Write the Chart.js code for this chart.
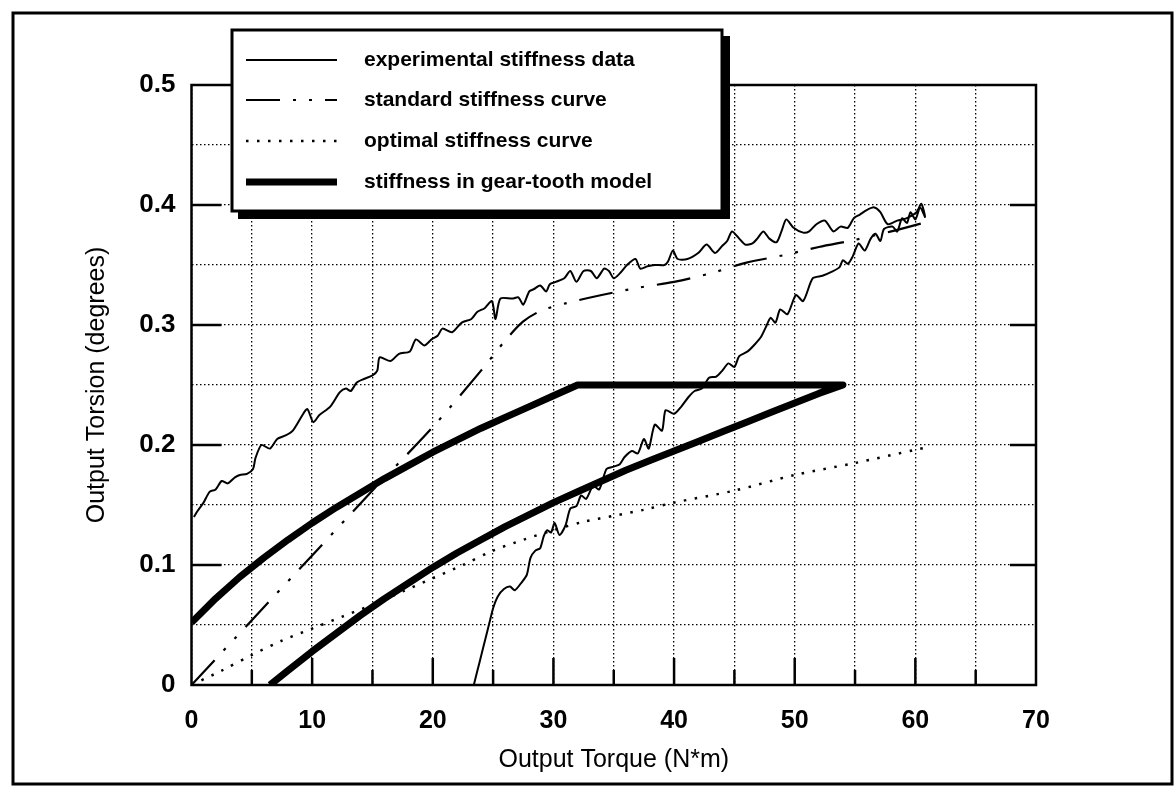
<!DOCTYPE html>
<html>
<head>
<meta charset="utf-8">
<script src="https://cdn.jsdelivr.net/npm/chart.js@4.4.1/dist/chart.umd.min.js"></script>
<style>
  html, body { margin: 0; padding: 0; background: #fff; }
</style>
</head>
<body>
<canvas id="chart" width="1175" height="800"></canvas>
<script>
// ---- data ----
const xLabelsEvery = 10;
const yLabelsEvery = 0.1;

// experimental stiffness data: loading branch, then unloading branch back to 0
const expTorque = [
  23.4, 23.7, 24.0, 24.4, 24.7, 25.0, 25.4, 25.9, 26.4, 26.8, 27.4, 27.8, 28.1, 28.5, 28.9,
  29.2, 29.5, 29.8, 30.1, 30.5, 31.0, 31.4, 31.9, 32.3, 32.7, 33.3, 33.8, 34.4, 35.0, 35.5,
  35.9, 36.5, 37.0, 37.5, 37.9, 38.4, 39.0, 39.3, 40.0, 40.6, 41.2, 41.7, 42.3, 42.9, 43.5,
  44.0, 44.5, 45.0, 45.4, 46.1, 46.7, 47.2, 47.6, 48.0, 48.4, 48.8, 49.4, 50.1, 50.7, 51.5,
  52.3, 53.0, 53.7, 54.0, 54.4, 54.8, 55.3, 55.8, 56.3, 56.7, 57.1, 57.4, 58.1, 58.5, 58.9,
  59.3, 59.6, 60.0, 60.4, 60.8, 60.5,
  60.1, 59.3, 58.5, 57.7, 57.1, 56.6, 56.0, 55.4, 54.9, 54.4, 53.8, 53.2, 52.5, 51.8, 51.2,
  50.7, 49.9, 49.3, 48.9, 48.5, 47.9, 47.4, 46.9, 46.5, 45.9, 45.4, 44.8, 44.4, 44.0, 43.4,
  42.7, 42.0, 41.1, 40.3, 39.9, 39.5, 39.2, 38.4, 37.8, 37.2, 36.8, 36.1, 35.5, 35.0, 34.6,
  34.2, 33.6, 33.1, 32.5, 31.9, 31.4, 30.9, 30.2, 29.7, 29.4, 28.9, 28.4, 28.0, 27.5, 27.1,
  26.6, 25.6, 25.2, 24.9, 24.3, 23.7, 23.2, 22.4, 21.6, 20.8, 20.4, 19.9, 19.3, 18.6, 18.1,
  17.2, 16.5, 15.6, 15.4, 15.0, 14.3, 13.7, 13.2, 12.8, 12.3, 11.5, 10.6, 10.1, 9.6, 9.2,
  8.4, 7.8, 7.1, 6.5, 5.8, 5.3, 5.1, 4.6, 4.0, 3.6, 3.0, 2.5, 2.0, 1.5, 1.0,
  0.5, 0.2
];
const expTorsion = [
  0.000, 0.012, 0.024, 0.040, 0.052, 0.064, 0.074, 0.080, 0.082, 0.079, 0.086, 0.092, 0.106, 0.112, 0.114,
  0.124, 0.129, 0.127, 0.135, 0.125, 0.133, 0.147, 0.149, 0.158, 0.155, 0.166, 0.163, 0.180, 0.182, 0.184,
  0.190, 0.195, 0.193, 0.205, 0.197, 0.217, 0.212, 0.229, 0.226, 0.232, 0.240, 0.245, 0.247, 0.256, 0.257,
  0.262, 0.268, 0.265, 0.274, 0.278, 0.284, 0.290, 0.298, 0.306, 0.302, 0.313, 0.309, 0.325, 0.320, 0.339,
  0.341, 0.344, 0.348, 0.354, 0.351, 0.357, 0.368, 0.362, 0.372, 0.376, 0.370, 0.380, 0.382, 0.378, 0.389,
  0.385, 0.394, 0.388, 0.398, 0.390, 0.401,
  0.394, 0.389, 0.387, 0.384, 0.394, 0.398, 0.396, 0.392, 0.389, 0.381, 0.382, 0.378, 0.387, 0.384, 0.378,
  0.377, 0.381, 0.388, 0.378, 0.369, 0.372, 0.378, 0.372, 0.368, 0.367, 0.372, 0.378, 0.370, 0.366, 0.360,
  0.367, 0.360, 0.355, 0.355, 0.362, 0.353, 0.350, 0.350, 0.349, 0.347, 0.355, 0.350, 0.343, 0.339, 0.345,
  0.347, 0.339, 0.345, 0.345, 0.336, 0.345, 0.339, 0.336, 0.334, 0.328, 0.333, 0.330, 0.328, 0.317, 0.323,
  0.322, 0.322, 0.305, 0.320, 0.314, 0.311, 0.305, 0.302, 0.294, 0.297, 0.291, 0.288, 0.283, 0.288, 0.278,
  0.276, 0.270, 0.273, 0.262, 0.258, 0.255, 0.252, 0.245, 0.247, 0.244, 0.232, 0.225, 0.219, 0.230, 0.225,
  0.212, 0.208, 0.205, 0.197, 0.200, 0.189, 0.180, 0.176, 0.175, 0.173, 0.168, 0.170, 0.163, 0.161, 0.152,
  0.145, 0.140
];

// standard stiffness curve
const stdTorque  = [0, 5, 10, 15, 20, 24, 26, 27.5, 29, 31, 34, 37, 40, 43, 46, 49, 52, 55, 58, 61];
const stdTorsion = [0, 0.054, 0.108, 0.162, 0.215, 0.262, 0.287, 0.303, 0.312, 0.318, 0.325, 0.331, 0.336, 0.343, 0.352, 0.358, 0.365, 0.371, 0.378, 0.386];

// optimal stiffness curve
const optTorque  = [0, 2.5, 5, 7.5, 10, 12.5, 15, 17.5, 20, 22.5, 25, 27.5, 30, 32.5, 35, 37.5, 40, 45, 50, 55, 60, 61];
const optTorsion = [0, 0.012, 0.025, 0.037, 0.047, 0.057, 0.067, 0.078, 0.089, 0.100, 0.112, 0.121, 0.129, 0.136, 0.141, 0.146, 0.152, 0.162, 0.175, 0.185, 0.196, 0.198];

// stiffness in gear-tooth model: upper branch, flat top, lower branch back down
const gearTorque = [
  0, 2, 4, 6, 8, 10, 12, 14, 16, 18, 20, 22, 24, 26, 28, 30, 32,
  54, 52, 50, 48, 46, 44, 42, 40, 38, 36, 34, 32, 30, 28, 26, 24, 22, 20, 18, 16, 14, 12, 10, 8, 6.5
];
const gearTorsion = [
  0.052, 0.072, 0.090, 0.106, 0.121, 0.135, 0.148, 0.160, 0.172, 0.183, 0.194, 0.204, 0.214, 0.223, 0.232, 0.241, 0.250,
  0.250, 0.243, 0.235, 0.227, 0.219, 0.211, 0.203, 0.195, 0.187, 0.179, 0.170, 0.161, 0.152, 0.142, 0.132, 0.121, 0.110, 0.098, 0.085, 0.072, 0.058, 0.043, 0.028, 0.012, 0
];

const zip = (xs, ys) => xs.map((x, i) => ({ x: x, y: ys[i] }));

const FONT = "'Liberation Sans', Arial, Helvetica, sans-serif";

// frame, inward tick marks, legend box and the outer border
const framePlugin = {
  id: 'frame',
  beforeDatasetsDraw(chart) {
    const { ctx, chartArea: a, scales } = chart;
    ctx.save();
    ctx.strokeStyle = '#000';
    ctx.lineWidth = 2.5;
    ctx.strokeRect(a.left, a.top, a.right - a.left, a.bottom - a.top);

    ctx.beginPath();
    scales.y.ticks.forEach(t => {
      const v = Math.round(t.value * 100);
      if (v === 0 || v === 50 || v % 10 !== 0) return;
      const py = scales.y.getPixelForValue(t.value);
      ctx.moveTo(a.left, py); ctx.lineTo(a.left + 30, py);
      ctx.moveTo(a.right - 26, py); ctx.lineTo(a.right, py);
    });
    scales.x.ticks.forEach(t => {
      if (t.value === 0 || t.value === 70) return;
      const px = scales.x.getPixelForValue(t.value);
      const len = t.value % 10 === 0 ? 27 : 15;
      ctx.moveTo(px, a.bottom); ctx.lineTo(px, a.bottom - len);
    });
    ctx.stroke();
    ctx.restore();
  },
  afterDraw(chart) {
    const { ctx } = chart;
    ctx.save();
    // outer border of the figure
    ctx.strokeStyle = '#000';
    ctx.lineWidth = 3;
    ctx.strokeRect(13, 13, 1159, 771);

    // legend box with its drop shadow
    const bx = 232, by = 30, bw = 490, bh = 181;
    ctx.fillStyle = '#000';
    ctx.fillRect(bx + 6, by + 6, bw + 2, bh + 2);
    ctx.fillStyle = '#fff';
    ctx.fillRect(bx, by, bw, bh);
    ctx.lineWidth = 3;
    ctx.strokeRect(bx, by, bw, bh);

    const rows = [60, 100, 141, 182];
    ctx.font = 'bold 21px ' + FONT;
    ctx.textBaseline = 'middle';
    ctx.textAlign = 'left';
    chart.data.datasets.forEach((ds, i) => {
      const y = rows[i];
      ctx.save();
      ctx.strokeStyle = '#000';
      ctx.lineWidth = ds.borderWidth;
      ctx.setLineDash(ds.borderDash || []);
      ctx.beginPath();
      ctx.moveTo(246, y); ctx.lineTo(337, y);
      ctx.stroke();
      ctx.restore();
      ctx.fillStyle = '#000';
      ctx.fillText(ds.label, 364, y);
    });
    ctx.restore();
  }
};

new Chart(document.getElementById('chart'), {
  type: 'scatter',
  data: {
    datasets: [
      {
        label: 'experimental stiffness data',
        data: zip(expTorque, expTorsion),
        borderColor: '#000', borderWidth: 2,
        showLine: true, pointRadius: 0, tension: 0.25
      },
      {
        label: 'standard stiffness curve',
        data: zip(stdTorque, stdTorsion),
        borderColor: '#000', borderWidth: 2.2,
        borderDash: [34, 13, 3, 13, 3, 13],
        showLine: true, pointRadius: 0, tension: 0.3
      },
      {
        label: 'optimal stiffness curve',
        data: zip(optTorque, optTorsion),
        borderColor: '#000', borderWidth: 2.5,
        borderDash: [2.5, 8.5],
        showLine: true, pointRadius: 0, tension: 0.3
      },
      {
        label: 'stiffness in gear-tooth model',
        data: zip(gearTorque, gearTorsion),
        borderColor: '#000', borderWidth: 7,
        borderJoinStyle: 'round',
        showLine: true, pointRadius: 0, tension: 0
      }
    ]
  },
  options: {
    responsive: false,
    devicePixelRatio: 1,
    animation: false,
    layout: { padding: { left: 0, right: 139, top: 85, bottom: 0 } },
    plugins: {
      legend: { display: false },
      tooltip: { enabled: false }
    },
    scales: {
      x: {
        type: 'linear', min: 0, max: 70,
        afterFit: s => { s.height = 115; },
        ticks: {
          stepSize: 5, autoSkip: false, maxRotation: 0,
          padding: 21, color: '#000',
          font: { family: FONT, size: 25, weight: 'bold' },
          callback: v => (v % xLabelsEvery === 0 ? String(v) : '')
        },
        grid: { color: '#000', lineWidth: 1.3, drawTicks: false },
        border: { display: false, dash: [1.5, 2.5] },
        title: {
          display: true, text: 'Output Torque (N*m)', color: '#000',
          font: { family: FONT, size: 25 },
          padding: { top: 0, bottom: 25 }
        }
      },
      y: {
        type: 'linear', min: 0, max: 0.5,
        afterFit: s => { s.width = 191.5; },
        ticks: {
          stepSize: 0.05, autoSkip: false, padding: 16, color: '#000',
          font: { family: FONT, size: 26, weight: 'bold' },
          callback: v => {
            const k = Math.round(v * 100);
            if (k % (yLabelsEvery * 100) !== 0) return '';
            return k === 0 ? '0' : (k / 100).toFixed(1);
          }
        },
        grid: { color: '#000', lineWidth: 1.3, drawTicks: false },
        border: { display: false, dash: [1.5, 2.5] },
        title: {
          display: true, text: 'Output Torsion (degrees)', color: '#000',
          font: { family: FONT, size: 25 },
          padding: { top: 82, bottom: 0 }
        }
      }
    }
  },
  plugins: [framePlugin]
});
</script>
</body>
</html>
